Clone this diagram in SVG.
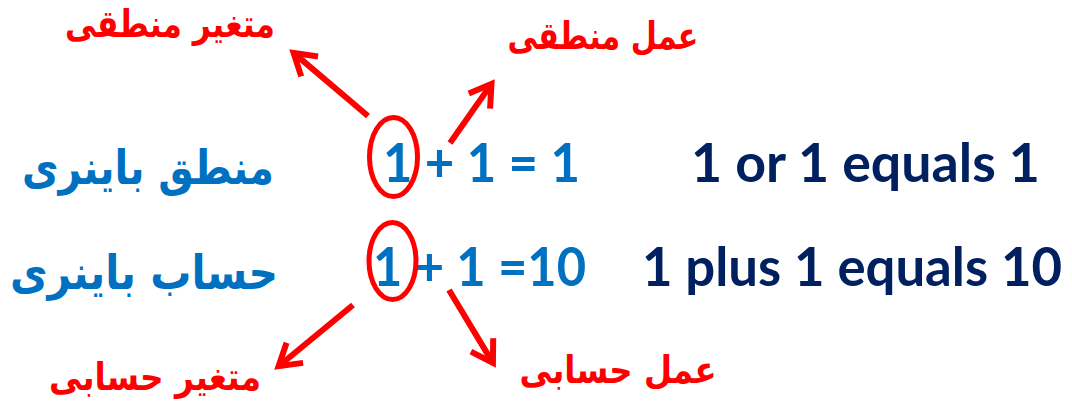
<svg xmlns="http://www.w3.org/2000/svg" width="1072" height="404" viewBox="0 0 1072 404">
<style>
.fa{font-family:"DejaVu Sans",sans-serif;font-weight:bold;direction:rtl;text-anchor:middle}
.en{font-family:Lato,"Liberation Sans",Arial,sans-serif;font-weight:bold}
.blue{fill:#0070C0}
.navy{fill:#002060}
.red{fill:#FF0000}
.arr{stroke:#FF0000;stroke-width:6;fill:none;marker-end:url(#ah)}
.ring{stroke:#FF0000;stroke-width:5;fill:none}
</style>
<defs>
<marker id="ah" markerUnits="userSpaceOnUse" markerWidth="40" markerHeight="40" refX="0" refY="0" viewBox="-30 -20 40 40" orient="auto" overflow="visible">
<path d="M-21,-13 L0,0 L-21,13" stroke="#FF0000" stroke-width="6" fill="none" stroke-linejoin="miter"/>
</marker>
</defs>
<rect width="1072" height="404" fill="#FFFFFF"/>
<g id="row1">
<text class="fa blue" x="148" y="184" font-size="47" textLength="252" lengthAdjust="spacingAndGlyphs">منطق باینری</text>
<text class="en blue" x="383" y="182" font-size="54" textLength="197" lengthAdjust="spacingAndGlyphs">1 + 1 = 1</text>
<text class="en navy" x="691" y="182" font-size="54" textLength="349" lengthAdjust="spacingAndGlyphs">1 or 1 equals 1</text>
</g>
<g id="row2">
<text class="fa blue" x="144" y="289" font-size="47" textLength="268" lengthAdjust="spacingAndGlyphs">حساب باینری</text>
<text class="en blue" x="373" y="286" font-size="54" textLength="213" lengthAdjust="spacingAndGlyphs">1 + 1 =10</text>
<text class="en navy" x="642" y="286" font-size="54" textLength="420" lengthAdjust="spacingAndGlyphs">1 plus 1 equals 10</text>
</g>
<g id="label-logic-var"><text class="fa red" x="170" y="37" font-size="38" textLength="210" lengthAdjust="spacingAndGlyphs">متغیر منطقی</text></g>
<g id="label-logic-op"><text class="fa red" x="603" y="49" font-size="38" textLength="191" lengthAdjust="spacingAndGlyphs">عمل منطقی</text></g>
<g id="label-arith-var"><text class="fa red" x="155" y="390" font-size="38" textLength="212" lengthAdjust="spacingAndGlyphs">متغیر حسابی</text></g>
<g id="label-arith-op"><text class="fa red" x="618" y="383" font-size="38" textLength="197" lengthAdjust="spacingAndGlyphs">عمل حسابی</text></g>
<g id="circle-top"><ellipse class="ring" cx="393.5" cy="157" rx="24" ry="39.5"/></g>
<g id="circle-bottom"><ellipse class="ring" cx="392.5" cy="261" rx="23.5" ry="38.5"/></g>
<g id="connectors">
<path class="arr" d="M368,116 L293.6,52.9"/>
<path class="arr" d="M450,143 L491.5,83.9"/>
<path class="arr" d="M353,305 L278.6,366.2"/>
<path class="arr" d="M449,290 L492.9,362.9"/>
</g>
</svg>
